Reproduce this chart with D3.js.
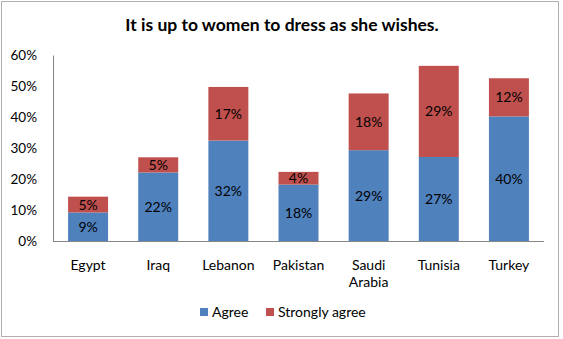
<!DOCTYPE html>
<html><head><meta charset="utf-8">
<script src="https://cdn.jsdelivr.net/npm/d3@7"></script>
<style>body{margin:0;background:#fff}svg{display:block;font-family:Lato,"Open Sans",sans-serif}</style>
</head><body><svg id="c" width="563" height="339"></svg>
<script>
const categories = ["Egypt","Iraq","Lebanon","Pakistan","Saudi Arabia","Tunisia","Turkey"];
const agree = [9.2,22.1,32.4,18.2,29.3,27.1,40.2];
const stronglyAgree = [5.1,4.9,17.3,4.1,18.3,29.4,12.3];
const agreeLabels = ["9%","22%","32%","18%","29%","27%","40%"];
const strongLabels = ["5%","5%","17%","4%","18%","29%","12%"];
const yTicks = [0,10,20,30,40,50,60];
const seriesNames = ["Agree","Strongly agree"];
const colors = ["#4F81BD","#C0504D"];

const svg = d3.select("#c");
svg.append("rect").attr("x",1.5).attr("y",1.5).attr("width",557).attr("height",335).attr("fill","#fff").attr("stroke","#b0b0b0");
svg.append("text").attr("x",282).attr("y",31).attr("text-anchor","middle").attr("font-weight","bold").attr("font-size",17.5).attr("fill","#000").text("It is up to women to dress as she wishes.");

const x = d3.scaleBand().domain(categories).range([53,544]).paddingInner(0.43).paddingOuter(0.215);
const y = d3.scaleLinear().domain([0,60]).range([241,55]);

const yAxis = svg.append("g").attr("transform","translate(53,0)").call(d3.axisLeft(y).tickValues(yTicks).tickSize(0).tickFormat(d=>d+"%"));
yAxis.select(".domain").attr("stroke","#868686");
yAxis.selectAll("text").attr("font-size",13.5).attr("fill","#000").attr("font-family","Lato,sans-serif").attr("x",-16);

const data = categories.map((c,i)=>({c,a:agree[i],s:stronglyAgree[i],la:agreeLabels[i],ls:strongLabels[i]}));
const g = svg.append("g");
g.selectAll(".a").data(data).join("rect").attr("x",d=>x(d.c)).attr("width",x.bandwidth()).attr("y",d=>y(d.a)).attr("height",d=>y(0)-y(d.a)).attr("fill",colors[0]);
g.selectAll(".s").data(data).join("rect").attr("x",d=>x(d.c)).attr("width",x.bandwidth()).attr("y",d=>y(d.a+d.s)).attr("height",d=>y(d.a)-y(d.a+d.s)).attr("fill",colors[1]);
g.selectAll(".la").data(data).join("text").attr("x",d=>x(d.c)+x.bandwidth()/2).attr("y",d=>y(d.a/2)+5).attr("text-anchor","middle").attr("font-size",14).text(d=>d.la);
g.selectAll(".ls").data(data).join("text").attr("x",d=>x(d.c)+x.bandwidth()/2).attr("y",d=>y(d.a+d.s/2)+5).attr("text-anchor","middle").attr("font-size",14).text(d=>d.ls);

svg.append("line").attr("x1",53).attr("x2",544).attr("y1",241.5).attr("y2",241.5).attr("stroke","#868686");

const xl = svg.append("g");
data.forEach(d=>{
  const words = d.c==="Saudi Arabia" ? ["Saudi","Arabia"] : [d.c];
  const t = xl.append("text").attr("text-anchor","middle").attr("font-size",14).attr("x",x(d.c)+x.bandwidth()/2).attr("y",270);
  words.forEach((w,j)=>t.append("tspan").attr("x",x(d.c)+x.bandwidth()/2).attr("dy",j?17:0).text(w));
});

const leg = svg.append("g");
const lx = [200,266];
seriesNames.forEach((n,i)=>{
  leg.append("rect").attr("x",lx[i]).attr("y",308).attr("width",8).attr("height",8).attr("fill",colors[i]);
  leg.append("text").attr("x",lx[i]+12).attr("y",317).attr("font-size",14).text(n);
});
</script></body></html>
